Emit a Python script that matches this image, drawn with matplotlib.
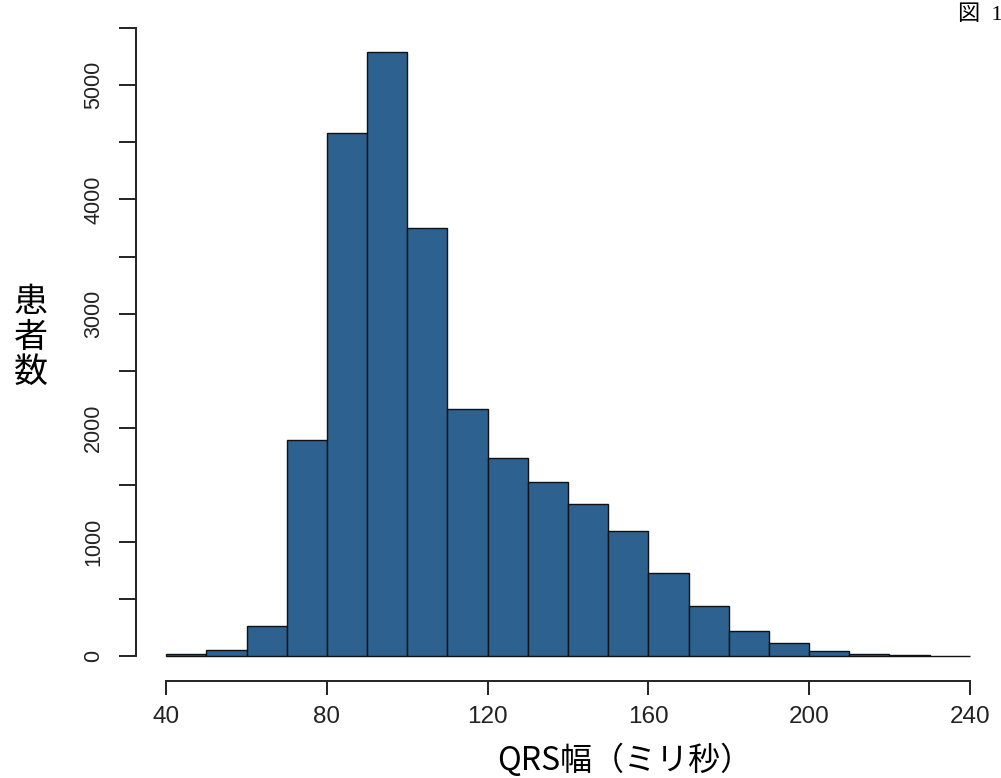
import matplotlib
matplotlib.use("Agg")
import matplotlib.pyplot as plt
import numpy as np

plt.rcParams['font.family'] = ['Liberation Sans', 'Noto Sans CJK JP', 'DejaVu Sans']

# QRS width histogram: bin edges (ms) and patient counts per bin
bin_edges = np.arange(40, 250, 10)
counts = [15, 50, 260, 1890, 4580, 5290, 3750, 2160, 1735, 1525,
          1330, 1095, 730, 440, 220, 115, 45, 18, 8, 3]
x_ticks = [40, 80, 120, 160, 200, 240]
y_ticks = np.arange(0, 5501, 500)
y_labels = ['0' if v == 0 else (str(v) if v % 1000 == 0 else '') for v in y_ticks]

fig = plt.figure(figsize=(10.01, 7.78), dpi=100)
ax = fig.add_axes([0.1359, 0.1247, 0.853, 0.839])

ax.bar(bin_edges[:-1], counts, width=10, align='edge',
       color='#2c6190', edgecolor='#111111', linewidth=1.0)

ax.set_xlim(32.5, 245)
ax.set_ylim(-219, 5500)

# R-style detached axes
for side in ('top', 'right'):
    ax.spines[side].set_visible(False)
ax.spines['left'].set_position(('data', 32.5))
ax.spines['left'].set_bounds(0, 5500)
ax.spines['bottom'].set_position(('data', -219))
ax.spines['bottom'].set_bounds(40, 240)
for side in ('left', 'bottom'):
    ax.spines[side].set_linewidth(1.4)
    ax.spines[side].set_color('#222222')

ax.set_xticks(x_ticks)
ax.set_xticklabels([str(v) for v in x_ticks], fontsize=17.5)
ax.set_yticks(y_ticks)
ax.set_yticklabels(y_labels, fontsize=15.5, rotation=90, va='center')
ax.tick_params(axis='x', direction='out', length=10, width=1.4, pad=8, colors='#222222')
ax.tick_params(axis='y', direction='out', length=12, width=1.4, pad=11, colors='#222222')

fig.text(625 / 1001, 1 - 760 / 778, 'QRS幅（ミリ秒）', ha='center', va='center',
         fontsize=23, family=['Noto Sans CJK JP'])
fig.text(31 / 1001, 1 - 337 / 778, '患\n者\n数', ha='center', va='center',
         fontsize=24.5, linespacing=1.0, family=['Noto Sans CJK JP'])
fig.text(958 / 1001, 1 - 15 / 778, '図  1', ha='left', va='center',
         fontsize=16, family=['Liberation Serif', 'Noto Sans CJK JP'])

fig.savefig('out.png', dpi=100)
